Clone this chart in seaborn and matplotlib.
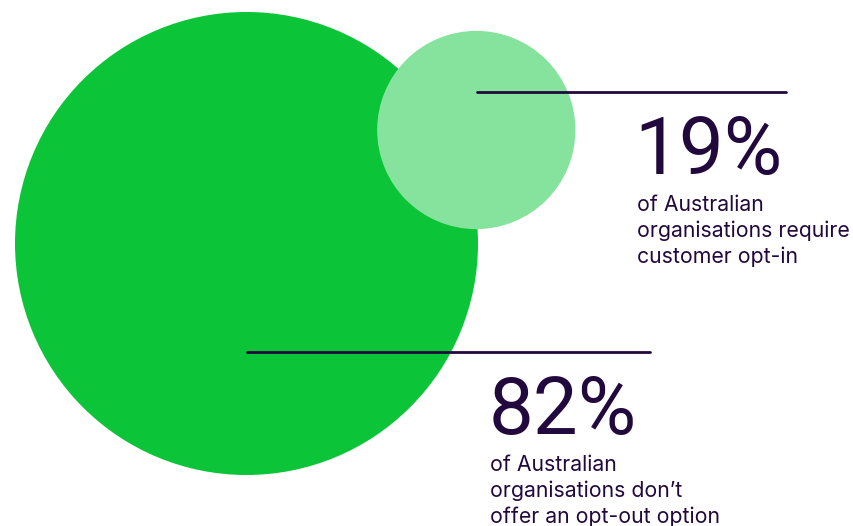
import matplotlib
matplotlib.use("Agg")
import matplotlib.pyplot as plt
from matplotlib.patches import Circle
import seaborn as sns
import pandas as pd

# ---- data ----
values = [82, 19]
big_labels = ["82%", "19%"]
captions = [
    "of Australian\norganisations don\u2019t\noffer an opt-out option",
    "of Australian\norganisations require\ncustomer opt-in",
]
colors = ["#0bc437", "#86e39e"]
text_color = "#22093d"

sns.set_theme(style="white")
plt.rcParams["font.family"] = ["Inter", "DejaVu Sans"]

W, H = 854, 526
fig = plt.figure(figsize=(W / 100, H / 100), dpi=100)
ax = fig.add_axes([0, 0, 1, 1])

# layout (pixel space)
centers = [(246.5, 243.5), (476.3, 130.0)]
r_max = 231.5
radii = [r_max * (v / max(values)) ** 0.58 for v in values]

for (cx, cy), r, c in zip(centers, radii, colors):
    ax.add_patch(Circle((cx, cy), r, facecolor=c, edgecolor="none", zorder=1))

# leader lines
lines = pd.DataFrame({
    "x": [246.7, 650, 476.7, 786],
    "y": [351.8, 351.8, 92.0, 92.0],
    "grp": ["a", "a", "b", "b"],
})
for g, d in lines.groupby("grp"):
    sns.lineplot(data=d, x="x", y="y", ax=ax, color=text_color, lw=2.0,
                 legend=False, zorder=3, sort=False)
ax.set_xlim(0, W)
ax.set_ylim(H, 0)
ax.set_aspect("equal")
ax.axis("off")

# texts
num_pos = [(489.0, 434.0), (634.5, 174.0)]
cap_pos = [(490.0, 470.7), (637.5, 210.7)]
for lab, cap, (nx, ny), (tx, ty) in zip(big_labels, captions, num_pos, cap_pos):
    ax.text(nx, ny, lab, fontsize=57.5, color=text_color, va="baseline",
            ha="left", zorder=4, family=["Roboto", "DejaVu Sans"])
    for i, line in enumerate(cap.split("\n")):
        ax.text(tx, ty + 26 * i, line, fontsize=15.3, color=text_color,
                va="baseline", ha="left", zorder=4)

fig.savefig("out.png", dpi=100)
